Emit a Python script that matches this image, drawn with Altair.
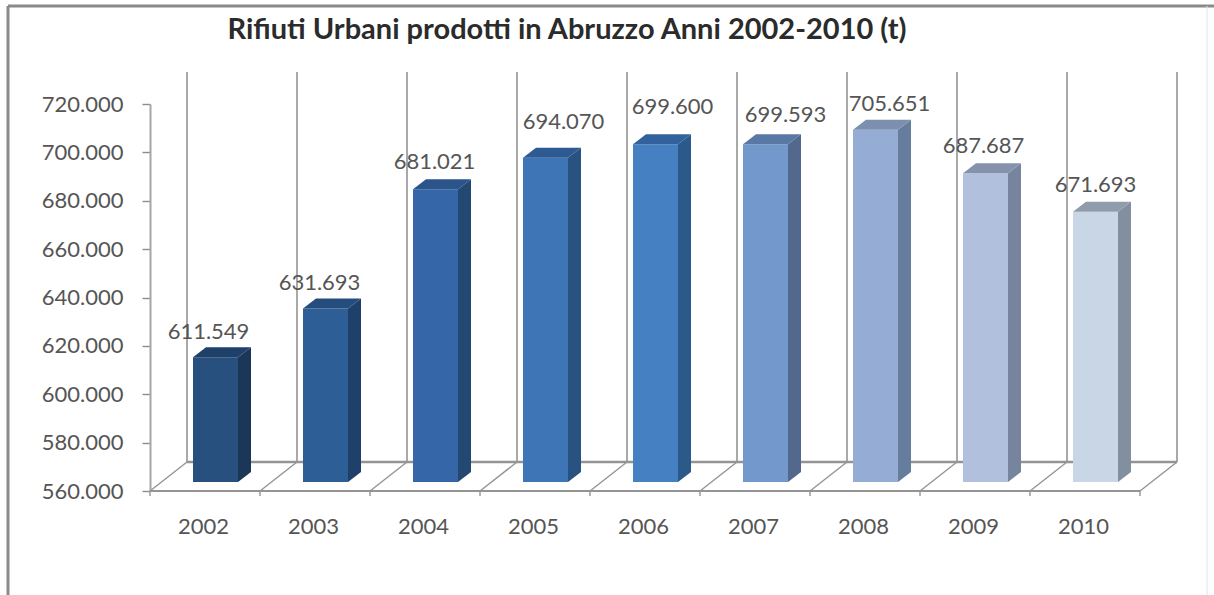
import altair as alt
import pandas as pd

years = ["2002", "2003", "2004", "2005", "2006", "2007", "2008", "2009", "2010"]
tons = [611549, 631693, 681021, 694070, 699600, 699593, 705651, 687687, 671693]
front_colors = ["#27507F", "#2E5E96", "#3567A8", "#3D75B6", "#4580C2", "#7398CB", "#95ACD4", "#B1C0DD", "#C9D6E6"]
side_colors = ["#1B3657", "#1F406A", "#234872", "#28527F", "#2B5A8A", "#52698D", "#677D9D", "#76849E", "#828F9F"]
top_colors = ["#1F4068", "#244C7C", "#2A548A", "#2D5A92", "#31629C", "#5A78A4", "#7C8FAE", "#8492AC", "#8F9CAB"]

# Hand-placed data labels, as nudges from the bar's top
label_dx = [-7, -6, -1, 18, 17, 20, 14, -2, 0]
label_dy = [-25, -26, -27, -36, -37, -29, -26, -27, -27]

PLOT_W, PLOT_H = 990, 387
Y_MIN, Y_MAX = 560000, 720000
CAT_PX = PLOT_W / len(years)
UNIT_PX = PLOT_H / (Y_MAX - Y_MIN)

# Pseudo-3D offsets, converted to scale units
WALL_DX, WALL_DY = 37 / CAT_PX, 29 / UNIT_PX
BAR_LEFT, BAR_RIGHT = 43 / CAT_PX, 88 / CAT_PX
DEPTH_DX, DEPTH_DY = 13 / CAT_PX, 10 / UNIT_PX
BASE_SHIFT = -9

FONT = "Lato"
TEXT = "#555555"
WALL = "#949494"

n = len(years)
x_scale = alt.Scale(domain=[0, n], range=[0, PLOT_W], nice=False, zero=False)
y_scale = alt.Scale(domain=[Y_MIN, Y_MAX], range=[PLOT_H, 0], nice=False, zero=False)

y_axis = alt.Axis(
    values=list(range(Y_MIN, Y_MAX + 1, 20000)),
    labelExpr="replace(format(datum.value, ','), ',', '.')",
    title=None,
    grid=False,
    domainColor="#a6a6a6",
    domainWidth=2,
    tickColor="#8c8c8c",
    tickSize=8,
    tickWidth=1.4,
    labelFont=FONT,
    labelFontSize=22,
    labelColor=TEXT,
    labelPadding=19,
)
x_axis = alt.Axis(
    values=[i + 0.5 for i in range(n)],
    labelExpr=f"{years!r}[floor(datum.value)]",
    title=None,
    grid=False,
    domain=False,
    ticks=False,
    labelFont=FONT,
    labelFontSize=22,
    labelColor=TEXT,
    labelPadding=25,
    labelOffset=-2,
    labelFlush=False,
    labelOverlap=False,
)
X = lambda field="x": alt.X(f"{field}:Q", scale=x_scale, axis=x_axis)
Y = lambda field="y": alt.Y(f"{field}:Q", scale=y_scale, axis=y_axis)

wall_top = Y_MAX + 32 / UNIT_PX
rules = pd.DataFrame(
    # vertical wall lines
    [dict(x=i + WALL_DX, x2=i + WALL_DX, y=Y_MIN + WALL_DY, y2=wall_top, w=1.6) for i in range(n + 1)]
    # floor diagonals and their ticks
    + [dict(x=i, x2=i + WALL_DX, y=Y_MIN, y2=Y_MIN + WALL_DY, w=1.4) for i in range(n + 1)]
    + [dict(x=i, x2=i, y=Y_MIN, y2=Y_MIN - 5 / UNIT_PX, w=1.4) for i in range(n + 1)]
    # floor edges
    + [dict(x=0, x2=n, y=Y_MIN, y2=Y_MIN, w=2.2), dict(x=WALL_DX, x2=n + WALL_DX, y=Y_MIN + WALL_DY, y2=Y_MIN + WALL_DY, w=2.6)]
)
grid = alt.Chart(rules).mark_rule(color=WALL).encode(
    x=X(), x2="x2:Q", y=Y(), y2="y2:Q", strokeWidth=alt.StrokeWidth("w:Q", scale=None)
)

layers = [grid]
for i, (value, front, side, top) in enumerate(zip(tons, front_colors, side_colors, top_colors)):
    left, right = i + BAR_LEFT, i + BAR_RIGHT
    face = pd.DataFrame({"x": [left], "x2": [right], "y": [value], "y2": [Y_MIN]})
    layers.append(
        alt.Chart(face)
        .mark_bar(color=front, yOffset=BASE_SHIFT, y2Offset=BASE_SHIFT)
        .encode(x=X(), x2="x2:Q", y=Y(), y2="y2:Q")
    )
    side_face = pd.DataFrame(
        {
            "x": [right, right + DEPTH_DX],
            "y": [value, value + DEPTH_DY],
            "y2": [Y_MIN, Y_MIN + DEPTH_DY],
        }
    )
    layers.append(
        alt.Chart(side_face)
        .mark_area(color=side, yOffset=BASE_SHIFT, y2Offset=BASE_SHIFT)
        .encode(x=X(), y=Y(), y2="y2:Q")
    )
    top_face = pd.DataFrame(
        {
            "x": [left, left + DEPTH_DX, right, right + DEPTH_DX],
            "y": [value, value + DEPTH_DY, value + DEPTH_DY, value + DEPTH_DY],
            "y2": [value, value, value, value + DEPTH_DY],
        }
    )
    layers.append(
        alt.Chart(top_face)
        .mark_area(color=top, yOffset=BASE_SHIFT, y2Offset=BASE_SHIFT)
        .encode(x=X(), y=Y(), y2="y2:Q")
    )

# Value labels sit slightly off each bar, so they are drawn one at a time
for i, (value, dx, dy) in enumerate(zip(tons, label_dx, label_dy)):
    text = f"{value:,}".replace(",", ".")
    label = pd.DataFrame({"x": [i + (BAR_LEFT + BAR_RIGHT) / 2], "y": [value], "t": [text]})
    layers.append(
        alt.Chart(label)
        .mark_text(font=FONT, fontSize=22, color=TEXT, dx=dx, dy=dy + BASE_SHIFT)
        .encode(x=X(), y=Y(), text="t:N")
    )

# Chart frame
frame = [
    alt.Chart(pd.DataFrame({"k": [0]})).mark_rule(color="#8a8a8a", strokeWidth=3).encode(
        x=alt.value(-142), x2=alt.value(-142), y=alt.value(-98), y2=alt.value(491)
    ),
    alt.Chart(pd.DataFrame({"k": [0]})).mark_rule(color="#8a8a8a", strokeWidth=3).encode(
        x=alt.value(-142), x2=alt.value(1064), y=alt.value(-98), y2=alt.value(-98)
    ),
    alt.Chart(pd.DataFrame({"k": [0]})).mark_rule(color="#e2e2e2", strokeWidth=1).encode(
        x=alt.value(1057), x2=alt.value(1057), y=alt.value(-98), y2=alt.value(491)
    ),
]

chart = (
    alt.layer(*frame, *layers)
    .properties(
        width=PLOT_W,
        height=PLOT_H,
        padding={"left": 150, "top": 104, "right": 74, "bottom": 104},
        autosize=alt.AutoSizeParams(type="none"),
        background="white",
        title=alt.TitleParams(
            "Rifiuti Urbani prodotti in Abruzzo Anni 2002-2010 (t)",
            font=FONT,
            fontSize=29,
            fontWeight="bold",
            color="#2b2b2b",
            anchor="start",
            dx=221,
            dy=44,
        ),
    )
    .configure_view(stroke=None)
)

chart.save("out.html", embed_options={"renderer": "svg", "actions": False})
